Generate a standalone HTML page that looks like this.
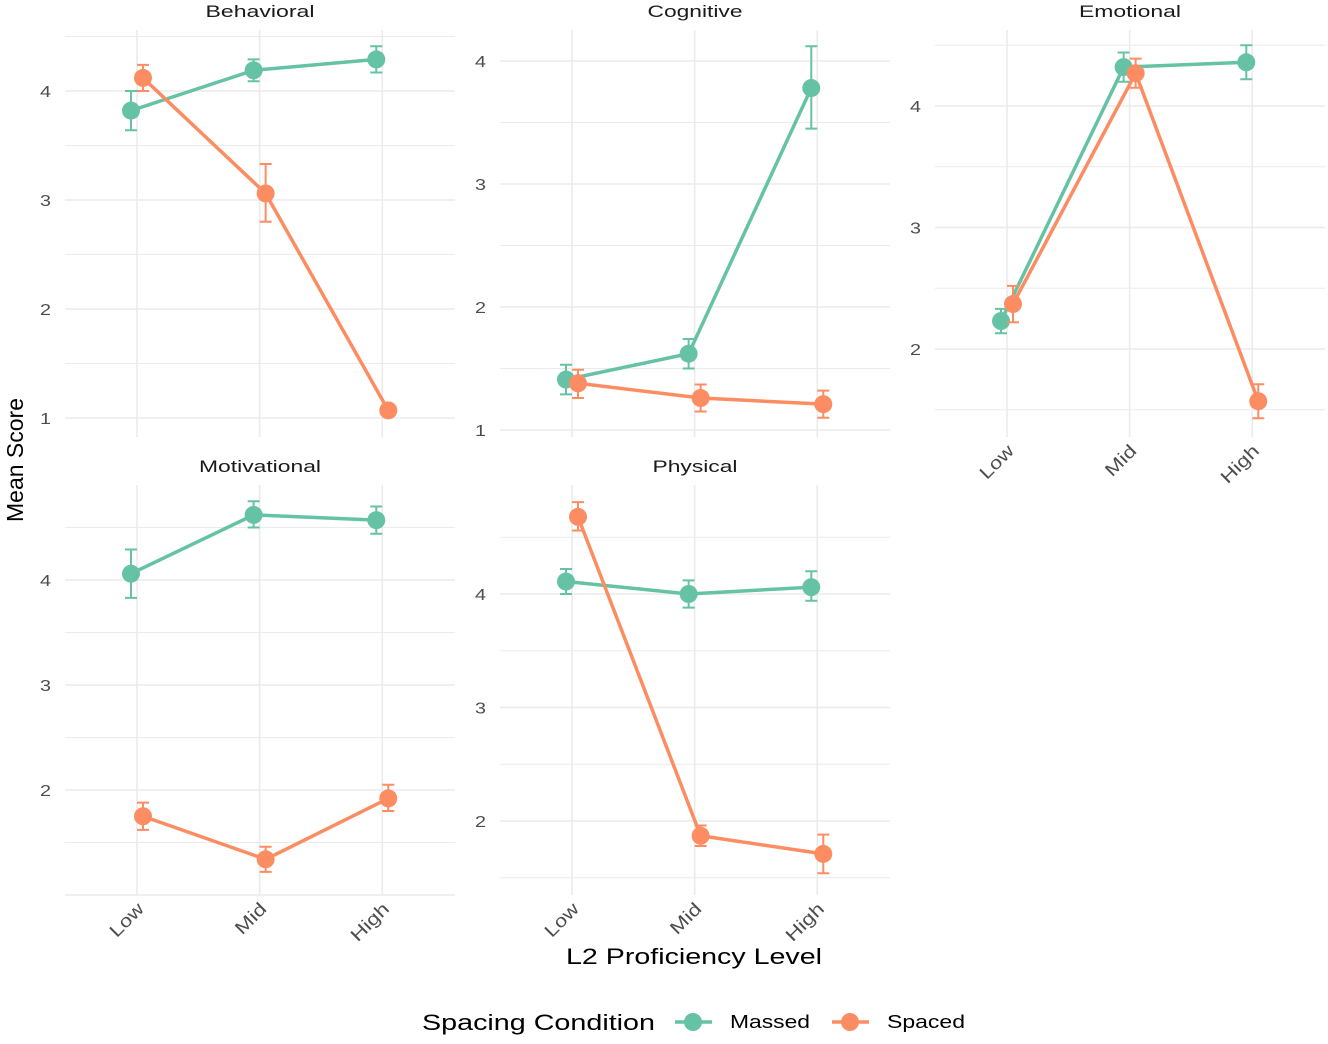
<!DOCTYPE html>
<html><head><meta charset="utf-8"><style>
body{margin:0;background:#fff;width:1328px;height:1039px;overflow:hidden;position:relative}
svg text{font-family:"Liberation Sans",sans-serif}
</style></head><body>
<svg id="chart" width="1328" height="1039" xmlns="http://www.w3.org/2000/svg"></svg>
<script>
const categories = ["Low","Mid","High"];
const seriesNames = ["Massed","Spaced"];
const facetNames = ["Behavioral","Cognitive","Emotional","Motivational","Physical"];
const massedMean = [[3.82,4.19,4.29],[1.41,1.62,3.78],[2.23,4.32,4.36],[4.06,4.62,4.57],[4.11,4.00,4.06]];
const massedLo   = [[3.64,4.09,4.17],[1.29,1.50,3.45],[2.13,4.20,4.22],[3.83,4.50,4.44],[4.00,3.88,3.94]];
const massedHi   = [[4.00,4.29,4.41],[1.53,1.74,4.12],[2.33,4.44,4.50],[4.29,4.75,4.70],[4.22,4.12,4.20]];
const spacedMean = [[4.12,3.06,1.07],[1.38,1.26,1.21],[2.37,4.27,1.57],[1.75,1.34,1.92],[4.68,1.87,1.71]];
const spacedLo   = [[4.00,2.80,1.03],[1.26,1.15,1.10],[2.22,4.15,1.43],[1.62,1.22,1.80],[4.56,1.78,1.54]];
const spacedHi   = [[4.24,3.33,1.11],[1.49,1.37,1.32],[2.52,4.39,1.71],[1.88,1.46,2.05],[4.81,1.96,1.88]];
const yTicks = [[1,2,3,4],[1,2,3,4],[2,3,4],[2,3,4],[2,3,4]];

// layout (not data)
const titleW = [109,95,102,122,85];
const tickW = [40,36,46];
const panels = [
 {x0:65,x1:455,top:30,bot:437,refV:4,refY:91,ppu:109},
 {x0:500,x1:890,top:30,bot:437,refV:4,refY:61,ppu:123},
 {x0:935,x1:1325,top:30,bot:437,refV:4,refY:106,ppu:121.5},
 {x0:65,x1:455,top:485,bot:895,refV:4,refY:580,ppu:105},
 {x0:500,x1:890,top:485,bot:895,refV:4,refY:594,ppu:113.5}
];
const colors = {Massed:"#66C2A5",Spaced:"#FC8D62"};
const svg = document.getElementById('chart');
const NS="http://www.w3.org/2000/svg";
function el(tag,attrs,parent){const e=document.createElementNS(NS,tag);for(const k in attrs)e.setAttribute(k,attrs[k]);(parent||svg).appendChild(e);return e;}

panels.forEach((p,i)=>{
  const g=el('g',{});
  
  
  const yS=v=>p.refY-(v-p.refV)*p.ppu;
  const step=(p.x1-p.x0)/3.18;
  const xS=c=>p.x0+72+c*step*1.0;
  const vMin=p.refV-(p.bot-p.refY)/p.ppu, vMax=p.refV+(p.refY-p.top)/p.ppu;
  for(let v=Math.ceil(vMin*2)/2; v<=vMax; v+=0.5){
    const minor = Math.abs(v-Math.round(v))>0.01;
    const ln=el('line',{x1:p.x0,x2:p.x1,y1:yS(v),y2:yS(v),stroke:'#EBEBEB','stroke-width':minor?1:1.6},g);
    
    
  }
  categories.forEach((c,ci)=>{
    const ln=el('line',{x1:xS(ci),x2:xS(ci),y1:p.top,y2:p.bot,stroke:'#EBEBEB','stroke-width':1.6},g);
    
    
  });
  yTicks[i].forEach(v=>{
    const t=el('text',{x:p.x0-14,y:yS(v)+6,'text-anchor':'end','font-size':16,fill:'#4D4D4D',textLength:11,lengthAdjust:'spacingAndGlyphs'},g);
    t.textContent=v;
    
    
  });
  const tt=el('text',{x:(p.x0+p.x1)/2-titleW[i]/2,y:p.top-13,'font-size':17,fill:'#1A1A1A',textLength:titleW[i],lengthAdjust:'spacingAndGlyphs'},g);
  tt.textContent=facetNames[i];
  
  
  if(i>=2){
    categories.forEach((c,ci)=>{
      const x=xS(ci)+8,y=p.bot+15;
      const t=el('text',{x:x,y:y,'text-anchor':'end','font-size':18,fill:'#4D4D4D',textLength:tickW[ci],lengthAdjust:'spacingAndGlyphs',transform:`rotate(-45 ${x} ${y})`},g);
      t.textContent=c;
      
      
    });
  }
  [[ 'Massed',massedMean,massedLo,massedHi,-6],['Spaced',spacedMean,spacedLo,spacedHi,6]].forEach(([name,m,lo,hi,dx])=>{
    const col=colors[name];
    const pts=categories.map((c,ci)=>[xS(ci)+dx,yS(m[i][ci])]);
    const pl=el('polyline',{points:pts.map(q=>q.join(',')).join(' '),fill:'none',stroke:col,'stroke-width':3.5},g);
    
    
    categories.forEach((c,ci)=>{
      const x=xS(ci)+dx,a=yS(lo[i][ci]),b=yS(hi[i][ci]);
      const eb=el('path',{d:`M${x-6},${a}H${x+6}M${x},${a}V${b}M${x-6},${b}H${x+6}`,stroke:col,'stroke-width':2,fill:'none'},g);
      
      
      const pt=el('circle',{cx:x,cy:yS(m[i][ci]),r:9,fill:col},g);
      
      
    });
  });
});
</script>
<svg style="position:absolute;left:0;top:0" width="1328" height="1039">
<text x="0" y="0" transform="translate(23 460) rotate(-90)" text-anchor="middle" font-size="23" fill="#000" font-family="Liberation Sans, sans-serif" textLength="124" lengthAdjust="spacingAndGlyphs">Mean Score</text>
<text x="566" y="964" font-size="22" fill="#000" font-family="Liberation Sans, sans-serif" textLength="256" lengthAdjust="spacingAndGlyphs">L2 Proficiency Level</text>
<g font-family="Liberation Sans, sans-serif">
<text x="422" y="1030" font-size="22" fill="#000" textLength="233" lengthAdjust="spacingAndGlyphs">Spacing Condition</text>
<g><line x1="675" x2="712" y1="1022" y2="1022" stroke="#66C2A5" stroke-width="3.5"/><circle cx="693" cy="1022" r="9" fill="#66C2A5"/><text x="730" y="1028" font-size="18" fill="#000" textLength="80" lengthAdjust="spacingAndGlyphs">Massed</text></g>
<g><line x1="832" x2="869" y1="1022" y2="1022" stroke="#FC8D62" stroke-width="3.5"/><circle cx="850" cy="1022" r="9" fill="#FC8D62"/><text x="887" y="1028" font-size="18" fill="#000" textLength="78" lengthAdjust="spacingAndGlyphs">Spaced</text></g>
</g>
</svg>
</body></html>
